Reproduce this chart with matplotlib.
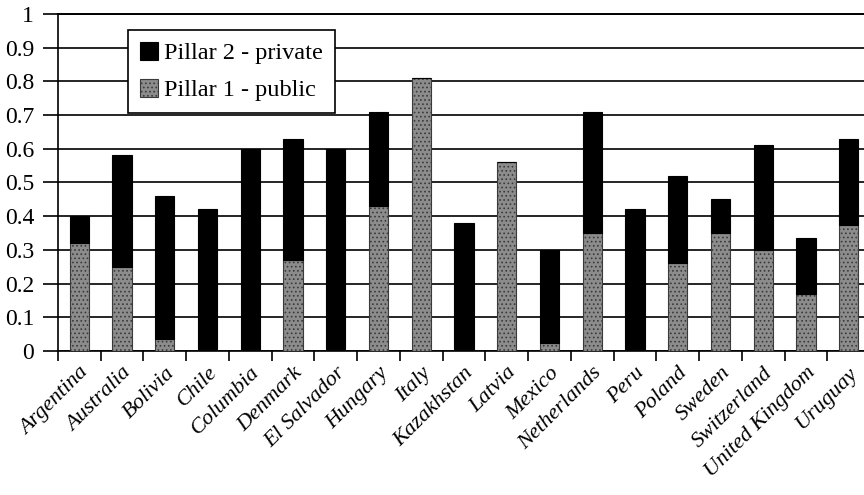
import matplotlib.pyplot as plt
import numpy as np

countries = ["Argentina", "Australia", "Bolivia", "Chile", "Columbia", "Denmark",
             "El Salvador", "Hungary", "Italy", "Kazakhstan", "Latvia", "Mexico",
             "Netherlands", "Peru", "Poland", "Sweden", "Switzerland",
             "United Kingdom", "Uruguay"]
# Pillar 1 - public share, Pillar 2 - private share
public = [0.32, 0.25, 0.035, 0.0, 0.0, 0.27, 0.0, 0.43, 0.81, 0.0, 0.56, 0.025,
          0.35, 0.0, 0.26, 0.35, 0.30, 0.17, 0.375]
private = [0.08, 0.33, 0.425, 0.42, 0.60, 0.36, 0.60, 0.28, 0.0, 0.38, 0.0, 0.275,
           0.36, 0.42, 0.26, 0.10, 0.31, 0.165, 0.255]
yticks = [0, 0.1, 0.2, 0.3, 0.4, 0.5, 0.6, 0.7, 0.8, 0.9, 1]
ytick_labels = ["0", "0.1", "0.2", "0.3", "0.4", "0.5", "0.6", "0.7", "0.8", "0.9", "1"]

plt.rcParams['font.family'] = ['Liberation Serif', 'DejaVu Serif']
plt.rcParams['hatch.linewidth'] = 0.7

fig = plt.figure(figsize=(8.64, 4.95), dpi=100)
ax = fig.add_axes([0.067, 0.291, 0.94, 0.681])

x = np.arange(len(countries))
w = 0.45
b1 = ax.bar(x, public, w, color='#8c8c8c', edgecolor='#3a3a3a', hatch='....',
            linewidth=0.8, label='Pillar 1 - public', zorder=3)
b2 = ax.bar(x, private, w, bottom=public, color='black', edgecolor='black',
            linewidth=0.8, label='Pillar 2 - private', zorder=3)

ax.set_ylim(0, 1)
ax.set_xlim(-0.5, len(countries) - 0.5)
ax.set_yticks(yticks)
ax.set_yticklabels(ytick_labels, fontsize=17)
ax.yaxis.grid(True, color='black', linewidth=1.2, zorder=0)
ax.set_axisbelow(True)
ax.tick_params(axis='y', length=11, width=1.2, pad=6)

ax.set_xticks(x)
ax.set_xticklabels(countries, rotation=45, ha='right', rotation_mode='anchor',
                   fontsize=16, style='italic')
ax.tick_params(axis='x', which='major', length=0, pad=9)
ax.set_xticks(np.arange(len(countries) + 1) - 0.5, minor=True)
ax.tick_params(axis='x', which='minor', length=7, width=1.2, direction='out')

for s in ['top', 'right']:
    ax.spines[s].set_visible(False)
ax.spines['left'].set_linewidth(1.2)
ax.spines['bottom'].set_linewidth(1.2)
ax.axhline(1, color='black', linewidth=1.4, clip_on=False)

leg = ax.legend(handles=[b2, b1], loc='upper left', bbox_to_anchor=(0.086, 0.953),
                borderaxespad=0, fontsize=17.5, frameon=True, fancybox=False,
                framealpha=1, edgecolor='black', handlelength=0.75,
                handleheight=0.75, handletextpad=0.25, borderpad=0.5,
                labelspacing=0.6)
leg.get_frame().set_linewidth(1.2)
leg.set_zorder(5)

fig.savefig('out.png', dpi=100)
